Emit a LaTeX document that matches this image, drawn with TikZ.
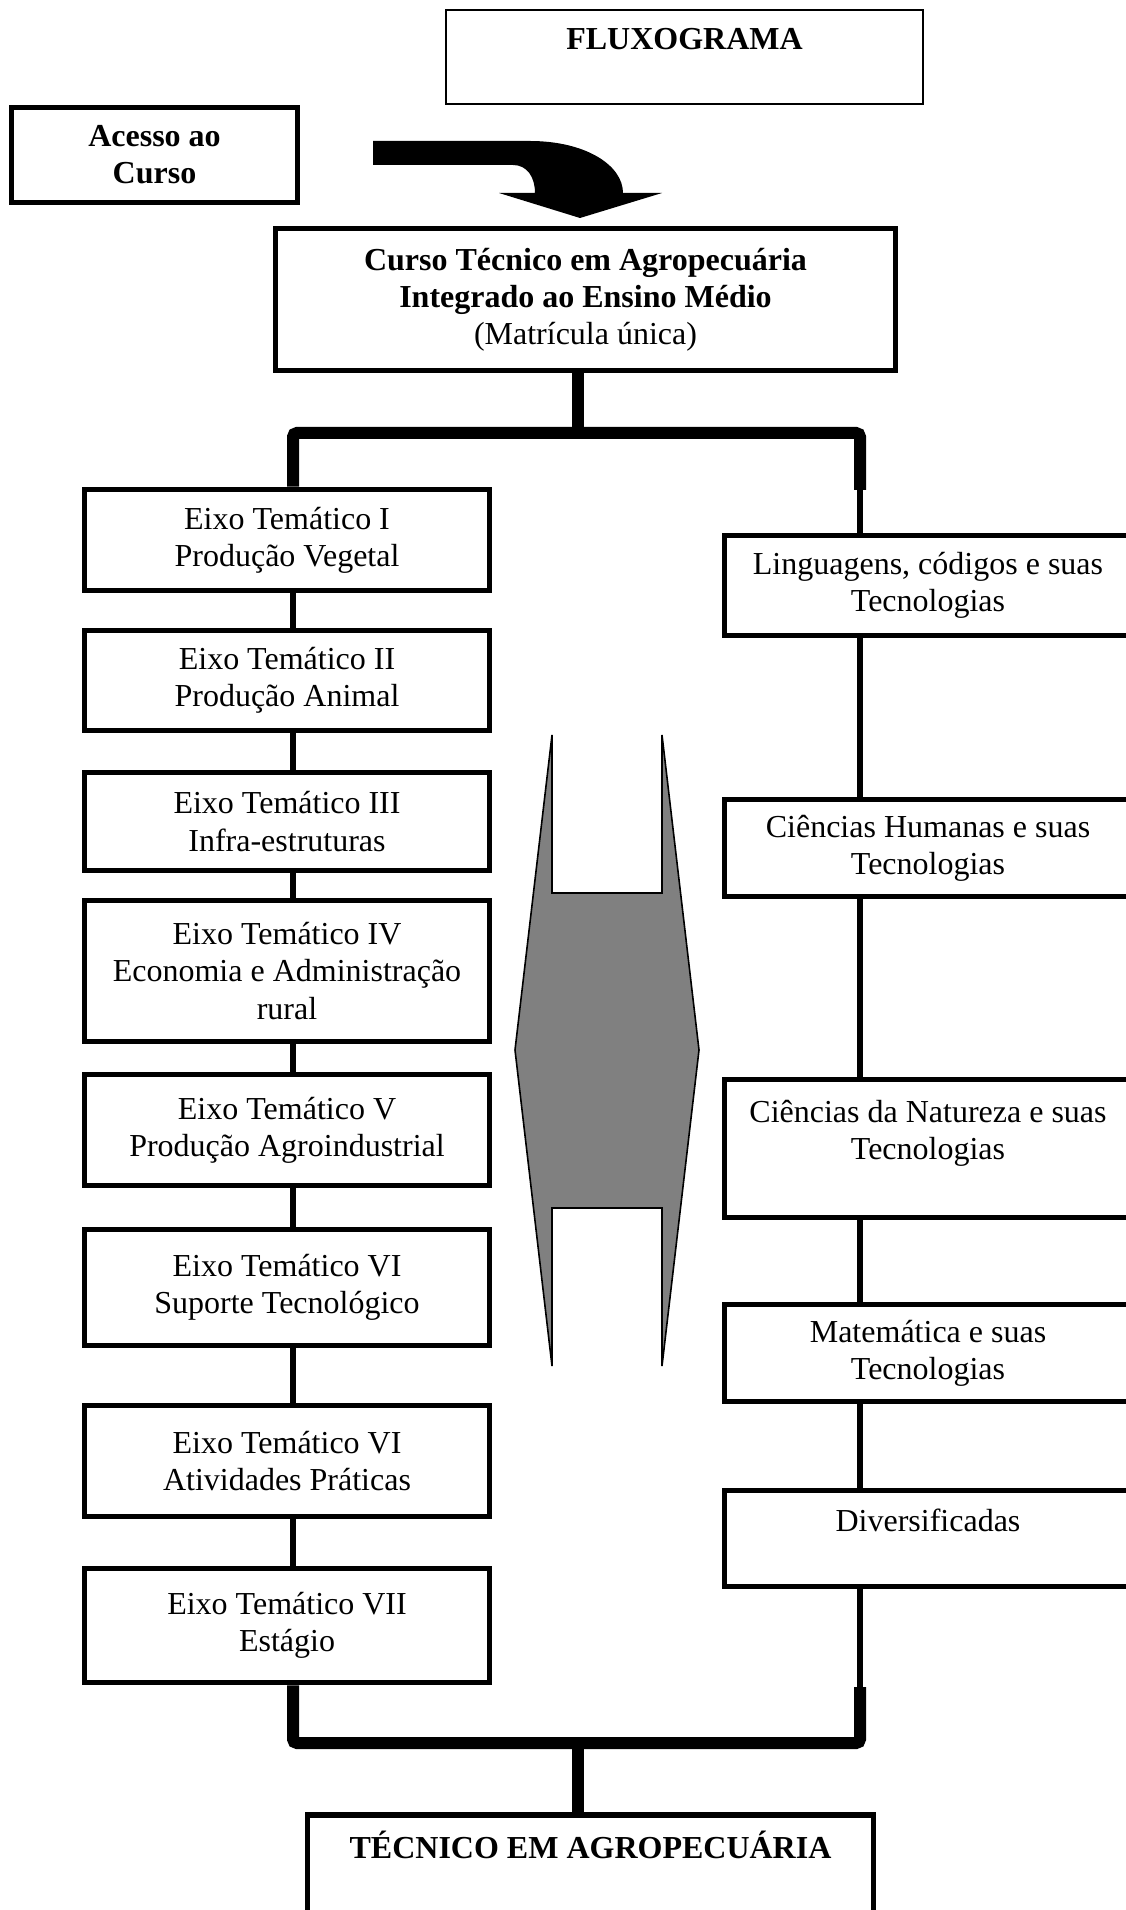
\documentclass[tikz,border=0pt]{standalone}
\usepackage{fontspec}
\setmainfont{Liberation Serif}
\usetikzlibrary{calc}
\definecolor{flxink}{HTML}{000000}
\definecolor{flxgray}{HTML}{808080}
\newcommand{\px}{0.375pt}
\newcommand{\fxf}{\fontsize{12}{13.9}\selectfont}
\tikzset{
  bx/.style={draw=flxink, align=center, inner sep=2pt, font=\fxf},
  thk/.style={bx, line width=2.1pt},
  thn/.style={bx, line width=0.75pt},
  bold/.style={font=\fxf\bfseries},
  eixo/.style={thk, minimum width=405*\px},
  area/.style={thk, minimum width=407*\px},
  lnk/.style={line width=2.2pt, color=flxink},
  trunk/.style={line width=4.5pt, color=flxink, rounded corners=1.5pt},
  shade/.style={fill=flxgray, draw=flxink, line width=0.6pt},
}

\begin{document}
\begin{tikzpicture}[x=\px, y=-\px]
  \useasboundingbox (0,0) rectangle (1126,1910);
  \clip (0,0) rectangle (1126,1910);

  % top
  \node[thn, bold, minimum width=477*\px, minimum height=94*\px] (flux) at (684.5,57) {FLUXOGRAMA\\~};
  \node[thk, bold, minimum width=286*\px, minimum height=95*\px] (acesso) at (154.5,155) {Acesso ao\\Curso};
  \node[thk, bold, minimum width=620*\px, minimum height=142*\px] (curso) at (585.5,299.5)
    {Curso Técnico em Agropecuária\\Integrado ao Ensino Médio\\{\mdseries (Matrícula única)}};
  \fill[flxink] (373,141) -- (530,141) .. controls (585,141) and (623,165) .. (623,193)
    -- (662,193) -- (580,218) -- (499,193) -- (535,193)
    .. controls (535,177) and (527,165) .. (513,165) -- (373,165) -- cycle;

  % eixos tematicos
  \node[eixo, minimum height=101*\px] (e1) at (287,540) {Eixo Temático I\\Produção Vegetal};
  \node[eixo, minimum height=100*\px] (e2) at (287,680.5) {Eixo Temático II\\Produção Animal};
  \node[eixo, minimum height=98*\px] (e3) at (287,821.5) {Eixo Temático III\\Infra-estruturas};
  \node[eixo, minimum height=141*\px] (e4) at (287,971) {Eixo Temático IV\\Economia e Administração\\rural};
  \node[eixo, minimum height=111*\px] (e5) at (287,1130) {Eixo Temático V\\Produção Agroindustrial};
  \node[eixo, minimum height=116*\px] (e6) at (287,1287.5) {Eixo Temático VI\\Suporte Tecnológico};
  \node[eixo, minimum height=111*\px] (e6b) at (287,1461) {Eixo Temático VI\\Atividades Práticas};
  \node[eixo, minimum height=114*\px] (e7) at (287,1625.5) {Eixo Temático VII\\Estágio};

  % areas
  \node[area, minimum height=100*\px] (ling) at (928,585.5) {Linguagens, códigos e suas\\Tecnologias};
  \node[area, minimum height=97*\px] (hum) at (928,848) {Ciências Humanas e suas\\Tecnologias};
  \node[area, minimum height=138*\px] (nat) at (928,1148.5) {Ciências da Natureza e suas\\Tecnologias\\~};
  \node[area, minimum height=97*\px] (mat) at (928,1353) {Matemática e suas\\Tecnologias};
  \node[area, minimum height=96*\px] (div) at (928,1538.5) {Diversificadas\\~};

  \node[thk, bold, anchor=north, minimum width=566*\px, minimum height=134*\px] (final) at (590.5,1812)
    {TÉCNICO EM AGROPECUÁRIA\\~\\~};

  % seta dupla
  \draw[shade] (552,735) -- (515,1050) -- (552,1366) -- (552,1208) -- (662,1208) -- (662,1366)
    -- (699,1050) -- (662,735) -- (662,893) -- (552,893) -- cycle;

  % ligacoes
  \coordinate (tl) at (293,433);
  \coordinate (tm) at (578,433);
  \coordinate (tr) at (860,433);
  \coordinate (rj) at (860,490);
  \draw[trunk] (e1.north -| tl) -- (tl) -- (tr) -- (rj);
  \draw[trunk] (tm |- curso.south) -- (tm);
  \draw[lnk] (rj) -- (rj |- ling.north);
  \foreach \a/\b in {e1/e2, e2/e3, e3/e4, e4/e5, e5/e6, e6/e6b, e6b/e7}
    \draw[lnk] (\a.south -| tl) -- (\b.north -| tl);
  \foreach \a/\b in {ling/hum, hum/nat, nat/mat, mat/div}
    \draw[lnk] (\a.south -| rj) -- (\b.north -| rj);

  \coordinate (bl) at (293,1743);
  \coordinate (bm) at (578,1743);
  \coordinate (br) at (860,1743);
  \coordinate (bj) at (860,1687);
  \draw[trunk] (e7.south -| bl) -- (bl) -- (br) -- (bj);
  \draw[lnk] (div.south -| bj) -- (bj);
  \draw[trunk] (bm) -- (bm |- final.north);
\end{tikzpicture}
\end{document}
